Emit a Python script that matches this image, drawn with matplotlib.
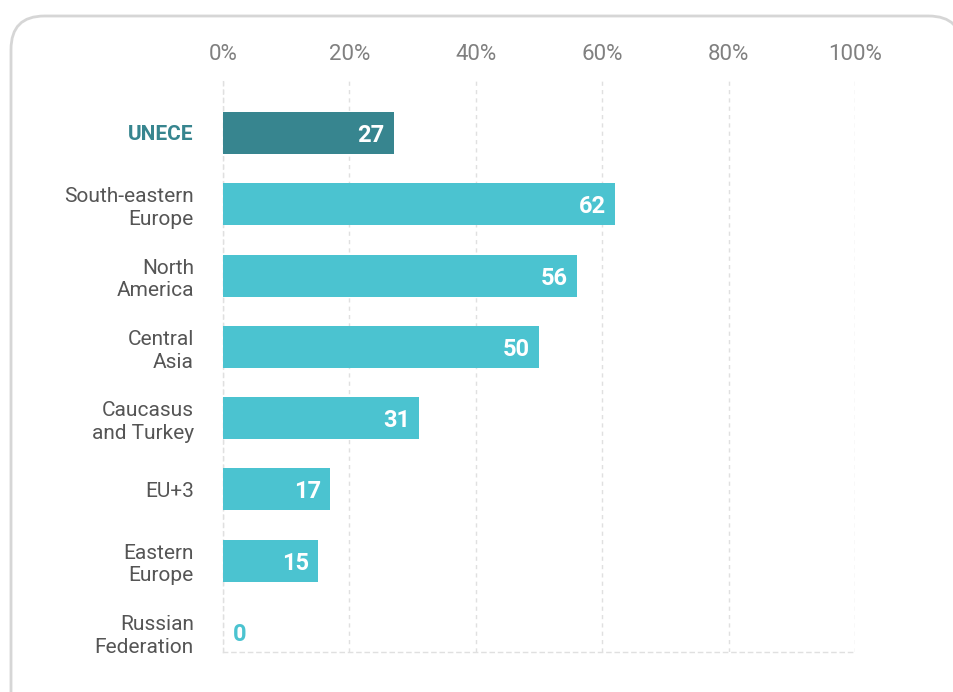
import matplotlib.pyplot as plt
from matplotlib.patches import FancyBboxPatch

categories = ["UNECE", "South-eastern\nEurope", "North\nAmerica", "Central\nAsia",
              "Caucasus\nand Turkey", "EU+3", "Eastern\nEurope", "Russian\nFederation"]
values = [27, 62, 56, 50, 31, 17, 15, 0]
ticks = [0, 20, 40, 60, 80, 100]
tick_labels = ["0%", "20%", "40%", "60%", "80%", "100%"]

dark = "#37858f"
light = "#4bc3d0"
plt.rcParams['font.family'] = ['Roboto', 'DejaVu Sans']

fig = plt.figure(figsize=(9.54, 6.92), dpi=100)
W, H = 954, 692

# rounded frame around the chart
frame = FancyBboxPatch((11 / W, -0.1), (962 - 11) / W, (692 - 16) / H + 0.1,
                       boxstyle="round,pad=0,rounding_size=0.035",
                       transform=fig.transFigure, facecolor="white",
                       edgecolor="#d6d6d6", linewidth=2, mutation_aspect=W / H,
                       zorder=-10)
fig.add_artist(frame)

ax = fig.add_axes([223 / W, 1 - 652 / H, (855 - 223) / W, (652 - 77) / H])
ax.set_facecolor("none")
ax.set_zorder(5)

pos = list(range(len(categories)))
colors = [dark] + [light] * (len(categories) - 1)
ax.barh(pos, values, height=0.59, color=colors, zorder=3)

ax.set_xlim(0, 100)
ax.set_ylim(7.28, -0.785)

ax.xaxis.tick_top()
ax.set_xticks(ticks)
ax.set_xticklabels(tick_labels, fontsize=16, color="#808080")
ax.tick_params(axis="x", length=0, pad=9)
ax.grid(axis="x", color="#e0e0e0", linestyle=(0, (3, 3)), linewidth=1, zorder=0)

ax.set_yticks(pos)
ax.set_yticklabels(categories, fontsize=15, color="#555555", linespacing=1.25)
ax.tick_params(axis="y", length=0, pad=21)
for lbl in ax.get_yticklabels():
    lbl.set_horizontalalignment("right")
lab0 = ax.get_yticklabels()[0]
lab0.set_color(dark)
lab0.set_fontweight("bold")

for s in ["top", "right"]:
    ax.spines[s].set_visible(False)
for s in ["left", "bottom"]:
    ax.spines[s].set_color("#e0e0e0")
    ax.spines[s].set_linestyle((0, (3, 3)))
    ax.spines[s].set_linewidth(1)

for p, v in zip(pos, values):
    if v > 5:
        ax.text(v - 1.4, p, str(v), ha="right", va="center_baseline", color="white",
                fontsize=17, fontweight="bold", zorder=4)
    else:
        ax.text(v + 1.6, p, str(v), ha="left", va="center_baseline", color=light,
                fontsize=17, fontweight="bold", zorder=4)

fig.savefig("out.png", dpi=100)
